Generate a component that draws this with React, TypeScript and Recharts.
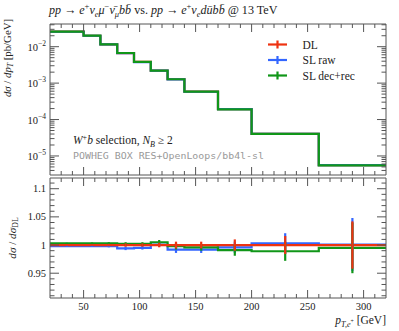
import React from 'react';
import { ComposedChart, Line, Scatter, XAxis, YAxis, ErrorBar, ReferenceLine } from 'recharts';

// ---------------- data ----------------
const binEdges = [20, 50, 65, 80, 95, 110, 125, 140, 170, 200, 260, 320];
const binCenters = [35, 57.5, 72.5, 87.5, 102.5, 117.5, 132.5, 155, 185, 230, 290];

const dlXsec = [2.58e-2, 2.0e-2, 1.16e-2, 6.7e-3, 3.81e-3, 2.2e-3, 1.28e-3, 5.85e-4, 1.93e-4, 4.06e-5, 5.56e-6];
const slRawXsec = [2.575e-2, 1.996e-2, 1.158e-2, 6.66e-3, 3.79e-3, 2.202e-3, 1.27e-3, 5.8e-4, 1.92e-4, 4.07e-5, 5.57e-6];
const slDecRecXsec = [2.588e-2, 2.006e-2, 1.163e-2, 6.71e-3, 3.82e-3, 2.21e-3, 1.277e-3, 5.83e-4, 1.91e-4, 4.02e-5, 5.53e-6];

const dlRatio = [1, 1, 1, 1, 1, 1, 1, 1, 1, 1, 1];
const slRawRatio = [0.998, 0.998, 0.998, 0.994, 0.995, 1.001, 0.992, 0.992, 0.996, 1.003, 1.001];
const slDecRecRatio = [1.003, 1.003, 1.003, 1.002, 1.002, 1.005, 0.998, 0.996, 0.991, 0.989, 0.995];

const dlRatioErr = [0.001, 0.0015, 0.002, 0.003, 0.003, 0.004, 0.006, 0.006, 0.01, 0.016, 0.042];
const slRawRatioErr = [0.001, 0.0015, 0.002, 0.003, 0.003, 0.004, 0.006, 0.006, 0.01, 0.018, 0.047];
const slDecRecRatioErr = [0.001, 0.0015, 0.002, 0.003, 0.003, 0.004, 0.006, 0.006, 0.01, 0.017, 0.045];

const seriesNames = ['DL', 'SL raw', 'SL dec+rec'];
const seriesColors = ['#EE3311', '#3366FF', '#109618'];

const xTickLabels = [50, 100, 150, 200, 250, 300];
const xMinorTicks = [30, 40, 50, 60, 70, 80, 90, 100, 110, 120, 130, 140, 150, 160, 170, 180, 190, 200, 210, 220, 230, 240, 250, 260, 270, 280, 290, 300, 310];
const logTicks = [
  4e-6, 5e-6, 6e-6, 7e-6, 8e-6, 9e-6,
  1e-5, 2e-5, 3e-5, 4e-5, 5e-5, 6e-5, 7e-5, 8e-5, 9e-5,
  1e-4, 2e-4, 3e-4, 4e-4, 5e-4, 6e-4, 7e-4, 8e-4, 9e-4,
  1e-3, 2e-3, 3e-3, 4e-3, 5e-3, 6e-3, 7e-3, 8e-3, 9e-3,
  1e-2, 2e-2, 3e-2, 4e-2,
];
const ratioTicks = [0.91, 0.92, 0.93, 0.94, 0.95, 0.96, 0.97, 0.98, 0.99, 1, 1.01, 1.02, 1.03, 1.04, 1.05, 1.06, 1.07, 1.08, 1.09, 1.1, 1.11];
const ratioTickLabels = [0.95, 1, 1.05, 1.1];

const xDomain = [20, 320];
const logDomain = [3.0e-6, 4.2e-2];
const ratioDomain = [0.906, 1.119];

// ---------------- helpers ----------------
const stepData = (vals: number[]) =>
  binEdges.map((x, i) => ({ x, y: vals[Math.min(i, vals.length - 1)] }));
const pointData = (vals: number[], errs: number[]) =>
  binCenters.map((x, i) => ({ x, y: vals[i], err: errs[i] }));

const AXIS = '#555';
const SERIF = '"Liberation Serif", "DejaVu Serif", serif';

type Seg = { t: string; i?: boolean; p?: 'sup' | 'sub' | 'subsup' };
const Rich = ({ segs, size }: { segs: Seg[]; size: number }) => {
  let cur = 0;
  return (
    <>
      {segs.map((sg, k) => {
        const target = sg.p === 'sup' ? -0.38 * size : sg.p === 'sub' ? 0.22 * size : sg.p === 'subsup' ? -0.05 * size : 0;
        const dy = target - cur;
        cur = target;
        const fs = sg.p === 'subsup' ? size * 0.5 : sg.p ? size * 0.7 : size;
        return (
          <tspan key={k} dy={dy} fontSize={fs} fontStyle={sg.i ? 'italic' : 'normal'}>
            {sg.t}
          </tspan>
        );
      })}
    </>
  );
};

const isMajorX = (v: number) => v % 50 === 0;
const isDecade = (v: number) => Math.abs(Math.log10(v) - Math.round(Math.log10(v))) < 1e-9;
const isMajorRatio = (v: number) => Math.abs(v * 20 - Math.round(v * 20)) < 1e-6;

const XTickBottom = (withLabel: boolean) => (props: any) => {
  const { x, y, payload } = props;
  const v = payload.value;
  const major = isMajorX(v);
  return (
    <g>
      <line x1={x} x2={x} y1={y} y2={y - (major ? 8 : 4)} stroke={AXIS} strokeWidth={1} />
      {withLabel && major && xTickLabels.includes(v) ? (
        <text x={x} y={y + 12} textAnchor="middle" fontFamily={SERIF} fontSize={10.5} fill="#222">
          {v}
        </text>
      ) : null}
    </g>
  );
};
const XTickTop = (props: any) => {
  const { x, y, payload } = props;
  const major = isMajorX(payload.value);
  return <line x1={x} x2={x} y1={y} y2={y + (major ? 8 : 4)} stroke={AXIS} strokeWidth={1} />;
};
const LogTickLeft = (props: any) => {
  const { x, y, payload } = props;
  const v = payload.value;
  const major = isDecade(v);
  const exp = Math.round(Math.log10(v));
  return (
    <g>
      <line x1={x} x2={x + (major ? 9 : 4.5)} y1={y} y2={y} stroke={AXIS} strokeWidth={1} />
      {major ? (
        <text x={x - 4} y={y + 4} textAnchor="end" fontFamily={SERIF} fill="#222">
          <tspan fontSize={10.5}>10</tspan>
          <tspan fontSize={7.5} dy={-5}>{'\u2212' + String(-exp)}</tspan>
        </text>
      ) : null}
    </g>
  );
};
const LogTickRight = (props: any) => {
  const { x, y, payload } = props;
  const major = isDecade(payload.value);
  return <line x1={x} x2={x - (major ? 9 : 4.5)} y1={y} y2={y} stroke={AXIS} strokeWidth={1} />;
};
const RatioTickLeft = (props: any) => {
  const { x, y, payload } = props;
  const v = payload.value;
  const major = isMajorRatio(v);
  return (
    <g>
      <line x1={x} x2={x + (major ? 9 : 4.5)} y1={y} y2={y} stroke={AXIS} strokeWidth={1} />
      {major && ratioTickLabels.some((t) => Math.abs(t - v) < 1e-6) ? (
        <text x={x - 4} y={y + 3.5} textAnchor="end" fontFamily={SERIF} fontSize={10.5} fill="#222">
          {String(v)}
        </text>
      ) : null}
    </g>
  );
};
const RatioTickRight = (props: any) => {
  const { x, y, payload } = props;
  const major = isMajorRatio(payload.value);
  return <line x1={x} x2={x - (major ? 9 : 4.5)} y1={y} y2={y} stroke={AXIS} strokeWidth={1} />;
};

const noDot = () => <g />;

export default function App() {
  const topSeries = [dlXsec, slRawXsec, slDecRecXsec];
  const ratioSeries = [dlRatio, slRawRatio, slDecRecRatio];
  const ratioErrs = [dlRatioErr, slRawRatioErr, slDecRecRatioErr];
  const ratioOrder = [1, 2, 0];

  return (
    <div style={{ position: 'absolute', left: 0, top: 0, width: 399, height: 331, background: '#fff' }}>
      <div style={{ position: 'absolute', left: 0, top: 0 }}>
        <ComposedChart width={399} height={180} margin={{ top: 23, right: 12, bottom: 4, left: 49 }}>
          <XAxis xAxisId="b" dataKey="x" type="number" domain={xDomain} allowDataOverflow ticks={xMinorTicks}
            interval={0} height={1} tickSize={0} tickMargin={0} stroke={AXIS} tick={XTickBottom(false)} />
          <XAxis xAxisId="t" dataKey="x" type="number" orientation="top" domain={xDomain} allowDataOverflow
            ticks={xMinorTicks} interval={0} height={1} tickSize={0} tickMargin={0} stroke={AXIS} tick={XTickTop} />
          <YAxis yAxisId="l" type="number" scale="log" domain={logDomain} allowDataOverflow ticks={logTicks}
            interval={0} width={1} tickSize={0} tickMargin={0} stroke={AXIS} tick={LogTickLeft} />
          <YAxis yAxisId="r" orientation="right" type="number" scale="log" domain={logDomain} allowDataOverflow
            ticks={logTicks} interval={0} width={1} tickSize={0} tickMargin={0} stroke={AXIS} tick={LogTickRight} />
          {topSeries.map((vals, i) => (
            <Line key={seriesNames[i]} xAxisId="b" yAxisId="l" data={stepData(vals)} dataKey="y" type="stepAfter"
              stroke={seriesColors[i]} strokeWidth={2.2} dot={false} isAnimationActive={false} />
          ))}
        </ComposedChart>
      </div>
      <div style={{ position: 'absolute', left: 0, top: 0 }}>
        <ComposedChart width={399} height={331} margin={{ top: 177, right: 12, bottom: 32, left: 49 }}>
          <XAxis xAxisId="b" dataKey="x" type="number" domain={xDomain} allowDataOverflow ticks={xMinorTicks}
            interval={0} height={1} tickSize={0} tickMargin={0} stroke={AXIS} tick={XTickBottom(true)} />
          <XAxis xAxisId="t" dataKey="x" type="number" orientation="top" domain={xDomain} allowDataOverflow
            ticks={xMinorTicks} interval={0} height={1} tickSize={0} tickMargin={0} stroke={AXIS} tick={XTickTop} />
          <YAxis yAxisId="l" type="number" domain={ratioDomain} allowDataOverflow ticks={ratioTicks}
            interval={0} width={1} tickSize={0} tickMargin={0} stroke={AXIS} tick={RatioTickLeft} />
          <YAxis yAxisId="r" orientation="right" type="number" domain={ratioDomain} allowDataOverflow
            ticks={ratioTicks} interval={0} width={1} tickSize={0} tickMargin={0} stroke={AXIS} tick={RatioTickRight} />
          <ReferenceLine xAxisId="b" yAxisId="l" y={1} stroke="#333" strokeWidth={1.5} />
          {ratioOrder.map((i) => (
            <Line key={'l' + i} xAxisId="b" yAxisId="l" data={stepData(ratioSeries[i])} dataKey="y" type="stepAfter"
              stroke={seriesColors[i]} strokeWidth={2.2} dot={false} isAnimationActive={false} />
          ))}
          {ratioOrder.map((i) => (
            <Scatter key={'s' + i} xAxisId="b" yAxisId="l" data={pointData(ratioSeries[i], ratioErrs[i])} dataKey="y"
              fill={seriesColors[i]} shape={noDot} isAnimationActive={false}>
              <ErrorBar dataKey="err" direction="y" width={0} stroke={seriesColors[i]} strokeWidth={2.2} isAnimationActive={false} />
            </Scatter>
          ))}
        </ComposedChart>
      </div>
      <svg width={399} height={331} style={{ position: 'absolute', left: 0, top: 0, pointerEvents: 'none' }}>
        <text x={49} y={14} fontFamily={SERIF} fill="#222" style={{ whiteSpace: 'pre' }}>
          <Rich size={12.1} segs={[
            { t: 'pp', i: true }, { t: ' \u2192 ' }, { t: 'e', i: true }, { t: '+', p: 'sup' }, { t: '\u03BD', i: true },
            { t: 'e', i: true, p: 'sub' }, { t: '\u03BC', i: true }, { t: '\u2212', p: 'sup' }, { t: '\u03BD\u0304', i: true },
            { t: '\u03BC', i: true, p: 'sub' }, { t: 'bb\u0304', i: true }, { t: ' vs. ' }, { t: 'pp', i: true },
            { t: ' \u2192 ' }, { t: 'e', i: true }, { t: '+', p: 'sup' }, { t: '\u03BD', i: true }, { t: 'e', i: true, p: 'sub' },
            { t: 'du\u0304bb\u0304', i: true }, { t: ' @ 13 TeV' },
          ]} />
        </text>
        <text transform="rotate(-90 11 58)" x={11} y={58} textAnchor="middle" fontFamily={SERIF} fill="#222" style={{ whiteSpace: 'pre' }}>
          <Rich size={10.8} segs={[{ t: 'd\u03C3', i: true }, { t: ' / ' }, { t: 'dp', i: true }, { t: 'T', i: true, p: 'sub' }, { t: ' [pb/GeV]' }]} />
        </text>
        <text transform="rotate(-90 16 238)" x={16} y={238} textAnchor="middle" fontFamily={SERIF} fill="#222" style={{ whiteSpace: 'pre' }}>
          <Rich size={11.2} segs={[{ t: 'd\u03C3', i: true }, { t: ' / ' }, { t: 'd\u03C3', i: true }, { t: 'DL', p: 'sub' }]} />
        </text>
        <text x={386} y={324} textAnchor="end" fontFamily={SERIF} fill="#222" style={{ whiteSpace: 'pre' }}>
          <Rich size={11.5} segs={[{ t: 'p', i: true }, { t: 'T,e', i: true, p: 'sub' }, { t: '+', p: 'subsup' }, { t: ' [GeV]' }]} />
        </text>
        <text x={73} y={144} fontFamily={SERIF} fill="#222" style={{ whiteSpace: 'pre' }}>
          <Rich size={11.5} segs={[{ t: 'W', i: true }, { t: '+', p: 'sup' }, { t: 'b', i: true }, { t: ' selection, ' }, { t: 'N', i: true }, { t: 'B', i: true, p: 'sub' }, { t: ' \u2265 2' }]} />
        </text>
        <text x={73} y={159} fontFamily='"DejaVu Sans Mono", "Liberation Mono", monospace' fontSize={9.5} fill="#999" textLength={191} lengthAdjust="spacingAndGlyphs">
          POWHEG BOX RES+OpenLoops/bb4l-sl
        </text>
        {seriesNames.map((name, i) => {
          const cy = 44.5 + i * 15.5;
          return (
            <g key={name}>
              <line x1={268} x2={287} y1={cy} y2={cy} stroke={seriesColors[i]} strokeWidth={2.2} />
              <line x1={277.5} x2={277.5} y1={cy - 4} y2={cy + 4} stroke={seriesColors[i]} strokeWidth={2.2} />
              <text x={302.5} y={cy + 4} fontFamily={SERIF} fontSize={11.5} fill="#222">{name}</text>
            </g>
          );
        })}
      </svg>
    </div>
  );
}
